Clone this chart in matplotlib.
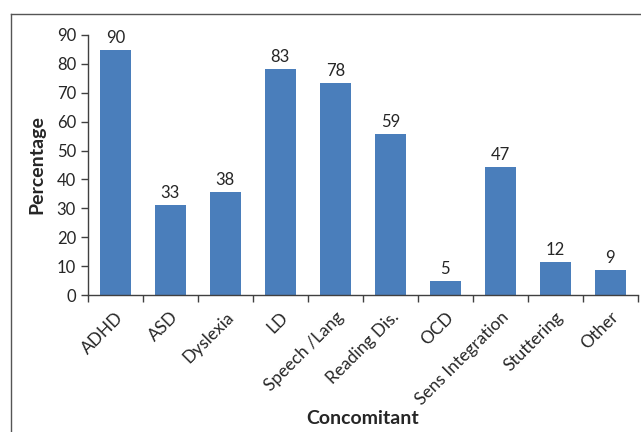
import numpy as np
import matplotlib.pyplot as plt
from matplotlib.lines import Line2D

categories = ['ADHD', 'ASD', 'Dyslexia', 'LD', 'Speech /Lang', 'Reading Dis.',
              'OCD', 'Sens Integration', 'Stuttering', 'Other']
# bar heights as drawn in the picture
bar_values = [84.8, 31.1, 35.6, 78.2, 73.4, 55.7, 4.8, 44.3, 11.4, 8.7]
# numbers printed above the bars
label_values = [90, 33, 38, 83, 78, 59, 5, 47, 12, 9]
y_ticks = [0, 10, 20, 30, 40, 50, 60, 70, 80, 90]

plt.rcParams['font.family'] = ['Lato', 'DejaVu Sans']
axis_color = '#404040'
text_color = '#262626'

fig = plt.figure(figsize=(6.41, 4.32), dpi=100)
ax = fig.add_axes([0.137, 0.317, 0.858, 0.602])

x = np.arange(len(categories))
bars = ax.bar(x, bar_values, width=0.56, color='#4a7ebb', zorder=2)

for b, lab in zip(bars, label_values):
    ax.annotate(str(lab), (b.get_x() + b.get_width() / 2, b.get_height()),
                xytext=(0, 3), textcoords='offset points',
                ha='center', va='bottom', fontsize=12, color=text_color)

ax.set_xlim(-0.5, len(categories) - 0.5)
ax.set_ylim(0, 90)
ax.set_yticks(y_ticks)
ax.tick_params(axis='y', labelsize=12, colors=axis_color, labelcolor=text_color,
               length=5, width=1)

# tick marks between categories, labels at centres
ax.set_xticks(np.arange(-0.5, len(categories)), labels=[''] * (len(categories) + 1))
ax.tick_params(axis='x', which='major', length=5, width=1, colors=axis_color)
ax.set_xticks(x, minor=True)
ax.set_xticklabels(categories, minor=True, rotation=45, ha='right',
                   rotation_mode='anchor', fontsize=12.5, color=text_color)
ax.tick_params(axis='x', which='minor', length=0, pad=10)

for side in ['top', 'right']:
    ax.spines[side].set_visible(False)
for side in ['left', 'bottom']:
    ax.spines[side].set_color(axis_color)
    ax.spines[side].set_linewidth(1)

ax.set_ylabel('Percentage', fontsize=14, fontweight='bold', color=text_color, labelpad=8)
fig.text(0.565, 0.032, 'Concomitant', ha='center', va='center',
         fontsize=14, fontweight='bold', color=text_color)

# outer chart frame (cut off at right and bottom)
fx = 10.5 / 641
fy = 1 - 13.5 / 432
fig.add_artist(Line2D([fx, fx], [0, fy], transform=fig.transFigure, color='#555555', lw=1))
fig.add_artist(Line2D([fx, 1], [fy, fy], transform=fig.transFigure, color='#555555', lw=1))

fig.savefig('out.png', dpi=100)
